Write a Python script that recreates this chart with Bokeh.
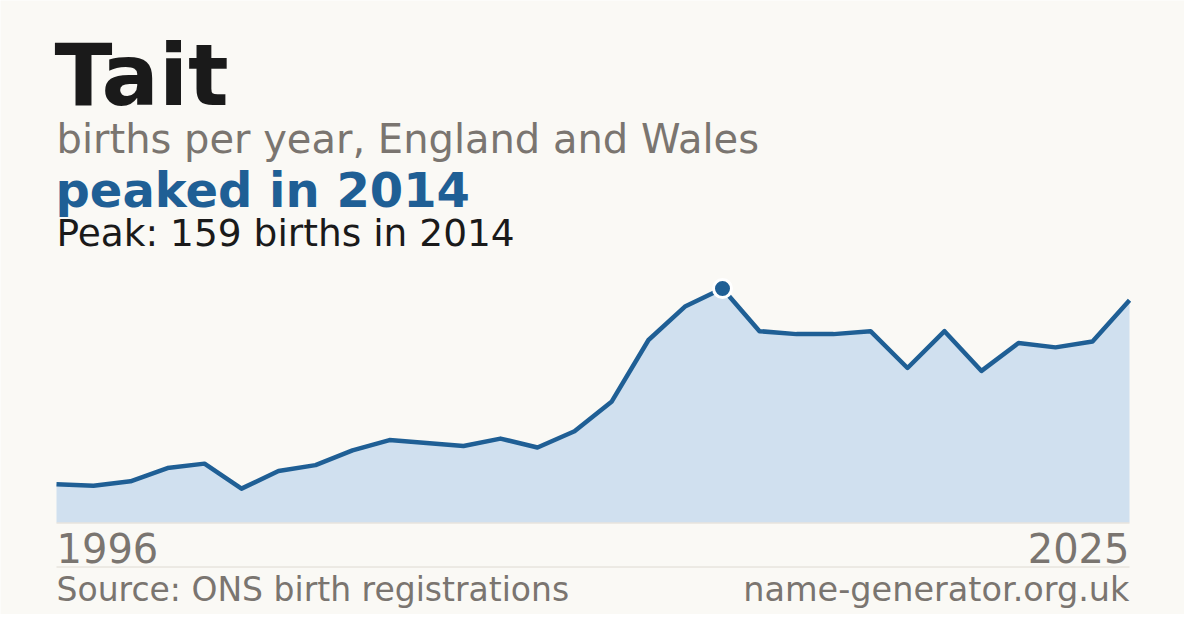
from bokeh.plotting import figure
from bokeh.models import Range1d
from bokeh.embed import file_html
from bokeh.resources import INLINE
from bokeh.core.properties import value

# ---- data ----
years = list(range(1996, 2026))
births = [26, 25, 28, 37, 40, 23, 35, 39, 49, 56,
          54, 52, 57, 51, 62, 82, 124, 147, 159, 130,
          128, 128, 130, 105, 130, 103, 122, 119, 123, 151]
name = "Tait"
subtitle = "births per year, England and Wales"
headline = "peaked in 2014"
peak_text = "Peak: 159 births in 2014"
source_text = "Source: ONS birth registrations"
site_text = "name-generator.org.uk"

peak_i = births.index(max(births))

BG = "#faf9f5"
BLUE = "#1f5f95"
FILL = "#d0e0ef"
GREY = "#7a7570"
DARK = "#1a1a1a"
RULE = "#dedad2"
FONT = value("DejaVu Sans")

W, H = 1184, 614
# chart area on the page: x 64..1137, y baseline 530
left_px, right_px, base_px = 64, 1137, 530
ypx = 234 / 159.0
xs = (right_px - left_px) / (years[-1] - years[0])
x0 = years[0] - (left_px - 8) / xs
x1 = x0 + W / xs
y0 = -(8 + H - base_px) / ypx
y1 = y0 + H / ypx

p = figure(width=W, height=H, output_backend="svg", toolbar_location=None,
           x_range=Range1d(x0, x1), y_range=Range1d(y0, y1),
           min_border=0, background_fill_color=BG, border_fill_color=BG,
           outline_line_color=None)
p.axis.visible = False
p.grid.visible = False
# page-pixel ranges for text layout
p.extra_x_ranges = {"px": Range1d(8, 8 + W)}
p.extra_y_ranges = {"px": Range1d(8 + H, 8)}

p.varea(x=years, y1=[0] * len(years), y2=births, fill_color=FILL)
p.line(x=years, y=births, line_color=BLUE, line_width=4.5, line_join="round")
p.scatter(x=[years[peak_i]], y=[births[peak_i]], size=18, fill_color=BLUE,
          line_color="white", line_width=3)

# rules
p.segment(x0=[left_px, left_px], y0=[530.5, 574.5], x1=[right_px, right_px], y1=[530.5, 574.5],
          line_color=RULE, line_width=1, x_range_name="px", y_range_name="px")


def txt(x, y, t, size, color, style="normal", align="left"):
    # y is the wanted baseline; compensate for the glyph's baseline placement
    yy = y - 0.35 * size
    p.text(x=[x], y=[yy], text=[t], text_font=FONT, text_font_size=f"{size}px",
           text_color=color, text_font_style=style, text_align=align,
           text_baseline="alphabetic", x_range_name="px", y_range_name="px")


txt(62, 113, name, 85, DARK, "bold")
txt(64, 160, subtitle, 40, GREY)
txt(63, 214, headline, 48, BLUE, "bold")
txt(64, 254, peak_text, 37.5, DARK)
txt(64, 569, str(years[0]), 40, GREY)
txt(1137, 569, str(years[-1]), 40, GREY, align="right")
txt(64, 609, source_text, 33, GREY)
txt(1137, 609, site_text, 33.5, GREY, align="right")

open("out.html", "w").write(file_html(p, INLINE))
